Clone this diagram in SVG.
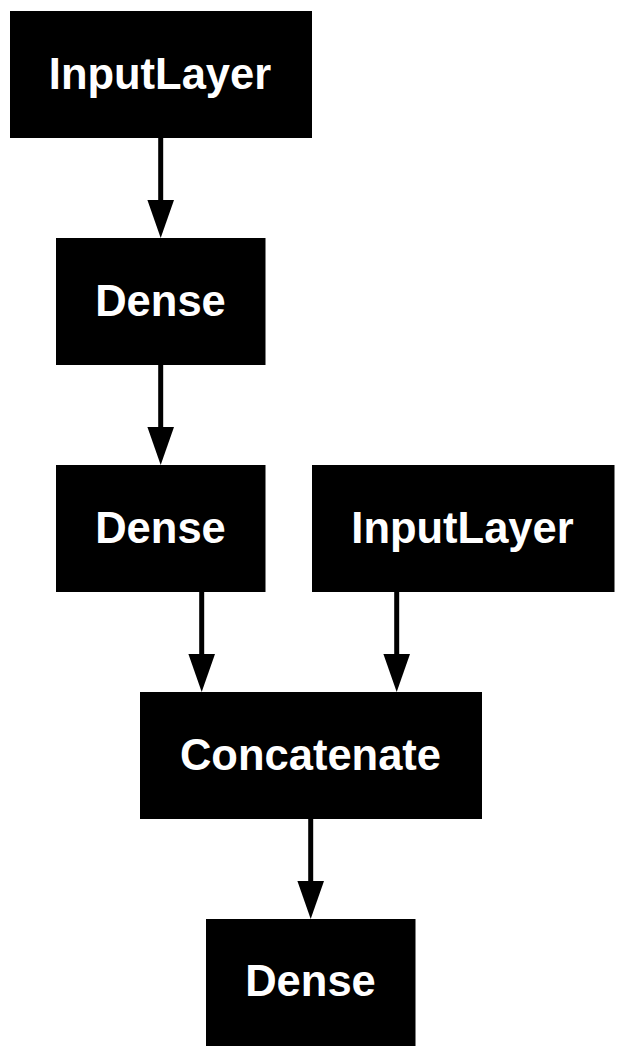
<svg xmlns="http://www.w3.org/2000/svg" width="624" height="1058" viewBox="0 0 624 1058">
<style>
.box{fill:#000;stroke:#000;stroke-width:1}
.lbl{fill:#fff;font-family:"Liberation Sans",Arial,sans-serif;font-weight:bold;font-size:43.5px;text-anchor:middle}
.edge{stroke:#000;stroke-width:5;fill:none}
.head{fill:#000;stroke:none}
</style>
<rect width="624" height="1058" fill="#fff"/>
<g id="connectors">
<line class="edge" x1="160.7" y1="137" x2="160.7" y2="202"/>
<polygon class="head" points="147.4,200 174,200 160.7,238"/>
<line class="edge" x1="160.7" y1="364" x2="160.7" y2="429"/>
<polygon class="head" points="147.4,427 174,427 160.7,465"/>
<line class="edge" x1="201.7" y1="591" x2="201.7" y2="656"/>
<polygon class="head" points="188.4,654 215,654 201.7,692"/>
<line class="edge" x1="396.7" y1="591" x2="396.7" y2="656"/>
<polygon class="head" points="383.4,654 410,654 396.7,692"/>
<line class="edge" x1="310.7" y1="818" x2="310.7" y2="883"/>
<polygon class="head" points="297.4,881 324,881 310.7,919"/>
</g>
<g id="input1">
<rect class="box" x="10.5" y="11.5" width="301" height="126"/>
<text class="lbl" x="160" y="89">InputLayer</text>
</g>
<g id="dense1">
<rect class="box" x="56.5" y="238.5" width="208.5" height="126"/>
<text class="lbl" x="160.5" y="315.5">Dense</text>
</g>
<g id="dense2">
<rect class="box" x="56.5" y="465.5" width="208.5" height="126"/>
<text class="lbl" x="160.5" y="542.5">Dense</text>
</g>
<g id="input2">
<rect class="box" x="312.5" y="465.5" width="301.5" height="126"/>
<text class="lbl" x="462.5" y="543">InputLayer</text>
</g>
<g id="concat">
<rect class="box" x="140.5" y="692.5" width="341" height="126"/>
<text class="lbl" x="310.5" y="769.5">Concatenate</text>
</g>
<g id="dense3">
<rect class="box" x="206.5" y="919.5" width="208.5" height="126"/>
<text class="lbl" x="310.5" y="996">Dense</text>
</g>
</svg>
